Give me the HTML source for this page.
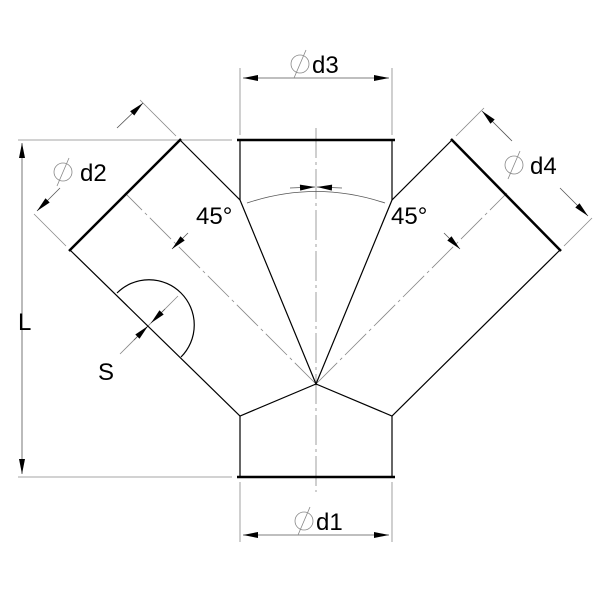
<!DOCTYPE html><html><head><style>html,body{margin:0;padding:0;background:#fff}</style></head><body>
<svg width="600" height="600" viewBox="0 0 600 600" xmlns="http://www.w3.org/2000/svg" font-family="'Liberation Sans',sans-serif">
<defs><marker id="a" viewBox="0 0 10 4" refX="10" refY="2" markerWidth="18" markerHeight="6" markerUnits="userSpaceOnUse" orient="auto-start-reverse"><path d="M0,0L10,2L0,4z" fill="#000"/></marker></defs>
<g stroke="#888" stroke-width="0.8" fill="none">
<line x1="18" y1="140" x2="232" y2="140"/><line x1="18" y1="477" x2="232" y2="477"/>
<line x1="240" y1="68" x2="240" y2="135"/><line x1="392" y1="68" x2="392" y2="135"/>
<line x1="240" y1="482" x2="240" y2="542"/><line x1="392" y1="482" x2="392" y2="542"/>
<line x1="176" y1="136" x2="140" y2="100"/><line x1="66" y1="246" x2="34" y2="214"/>
<line x1="456" y1="136" x2="484" y2="108"/><line x1="564" y1="246" x2="592" y2="218"/>
<line x1="316" y1="128" x2="316" y2="492" stroke-dasharray="30 4 3 4"/>
<line x1="316" y1="384" x2="125" y2="193" stroke-dasharray="30 4 3 4"/>
<line x1="316" y1="384" x2="507" y2="193" stroke-dasharray="30 4 3 4"/>
<line x1="120" y1="354" x2="178" y2="296"/>
</g>
<g stroke="#555" stroke-width="0.8" fill="none">
<line x1="22" y1="143" x2="22" y2="474" marker-start="url(#a)" marker-end="url(#a)"/>
<line x1="243" y1="78" x2="389" y2="78" marker-start="url(#a)" marker-end="url(#a)"/>
<line x1="243" y1="535" x2="389" y2="535" marker-start="url(#a)" marker-end="url(#a)"/>
<line x1="117" y1="128" x2="143" y2="103" marker-end="url(#a)"/>
<line x1="60" y1="188" x2="37" y2="211" marker-end="url(#a)"/>
<line x1="512" y1="141" x2="482" y2="111" marker-end="url(#a)"/>
<line x1="560" y1="188" x2="588" y2="216" marker-end="url(#a)"/>
<path d="M247,203 Q316,180 385,203"/>
<line x1="290" y1="188" x2="315" y2="187" marker-end="url(#a)"/>
<line x1="342" y1="188" x2="317" y2="187" marker-end="url(#a)"/>
<line x1="172" y1="249" x2="188" y2="233" marker-start="url(#a)"/>
<line x1="460" y1="249" x2="444" y2="233" marker-start="url(#a)"/>
<line x1="134" y1="340" x2="148" y2="326" marker-end="url(#a)"/>
<line x1="165" y1="309" x2="151" y2="323" marker-end="url(#a)"/>
</g>
<g stroke="#000" stroke-width="1.2" fill="none">
<polyline points="180,140 240,200 316,384 392,200 452,140"/>
<polyline points="240,140 240,200"/><polyline points="392,140 392,200"/>
<polyline points="70,250 240,416 316,384 392,416 560,250"/>
<line x1="240" y1="416" x2="240" y2="477"/><line x1="392" y1="416" x2="392" y2="477"/>
<path d="M117,293 A45,45 0 0 1 181,357"/>
</g>
<g stroke="#000" stroke-width="2.5">
<line x1="237" y1="140" x2="395" y2="140"/><line x1="237" y1="477" x2="395" y2="477"/>
<line x1="181" y1="139" x2="69" y2="251"/><line x1="451" y1="139" x2="561" y2="251"/>
</g>
<g font-size="24" fill="#000">
<text x="312" y="73">d3</text><text x="316" y="530">d1</text>
<text x="80" y="181">d2</text><text x="530" y="174">d4</text>
<text x="196" y="224">45°</text><text x="391" y="224">45°</text>
<text x="18" y="330">L</text><text x="98" y="380">S</text>
</g>
<g stroke="#888" stroke-width="0.8" fill="none">
<circle cx="300" cy="64" r="9"/><line x1="294" y1="78" x2="306" y2="50"/>
<circle cx="304" cy="521" r="9"/><line x1="298" y1="535" x2="310" y2="507"/>
<circle cx="63" cy="172" r="9"/><line x1="57" y1="186" x2="69" y2="158"/>
<circle cx="514" cy="165" r="9"/><line x1="508" y1="179" x2="520" y2="151"/>
</g>
</svg>
</body></html>
